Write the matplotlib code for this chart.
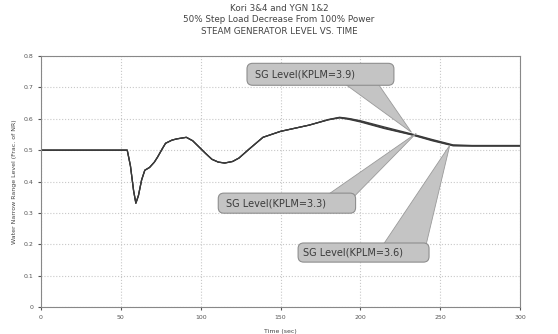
import matplotlib
matplotlib.use("Agg")
import matplotlib.pyplot as plt
from matplotlib.patches import Polygon, FancyBboxPatch

# data
time_s = [0, 54, 56, 58, 59.4, 61, 63, 65, 68, 71, 73, 76, 78, 82, 85, 91, 95, 99,
          103, 107, 111, 115, 120, 124, 130, 139, 150, 168, 180, 187, 193, 200,
          215, 232, 245, 258, 270, 300]
level_39 = [0.5, 0.5, 0.45, 0.37, 0.331, 0.355, 0.405, 0.436, 0.445, 0.462, 0.478,
            0.505, 0.522, 0.532, 0.536, 0.541, 0.53, 0.51, 0.49, 0.471, 0.462,
            0.459, 0.464, 0.475, 0.502, 0.541, 0.56, 0.58, 0.598, 0.605, 0.601,
            0.594, 0.574, 0.552, 0.534, 0.517, 0.515, 0.515]
level_33 = [0.5, 0.5, 0.45, 0.37, 0.331, 0.355, 0.405, 0.436, 0.445, 0.462, 0.478,
            0.505, 0.522, 0.532, 0.536, 0.541, 0.53, 0.51, 0.49, 0.471, 0.462,
            0.459, 0.464, 0.475, 0.502, 0.541, 0.56, 0.58, 0.597, 0.603, 0.598,
            0.590, 0.569, 0.549, 0.530, 0.514, 0.513, 0.513]
level_36 = [0.5, 0.5, 0.45, 0.37, 0.331, 0.355, 0.405, 0.436, 0.445, 0.462, 0.478,
            0.505, 0.522, 0.532, 0.536, 0.541, 0.53, 0.51, 0.49, 0.471, 0.462,
            0.459, 0.464, 0.475, 0.502, 0.541, 0.56, 0.58, 0.597, 0.604, 0.600,
            0.592, 0.571, 0.550, 0.532, 0.515, 0.514, 0.514]
series_names = ["SG Level(KPLM=3.9)", "SG Level(KPLM=3.3)", "SG Level(KPLM=3.6)"]
series_values = [level_39, level_33, level_36]

x_ticks = [0, 50, 100, 150, 200, 250, 300]
y_ticks = [0, 0.1, 0.2, 0.3, 0.4, 0.5, 0.6, 0.7, 0.8]
y_tick_labels = ["0", "0.1", "0.2", "0.3", "0.4", "0.5", "0.6", "0.7", "0.8"]

# callouts in data units: box (t0, t1, v0, v1), text left, wedge base span, tip
callout_box = [(129, 221, 0.707, 0.777), (111, 197, 0.299, 0.363), (161, 243, 0.143, 0.204)]
callout_text_x = [134, 116, 164]
callout_base = [(182, 207), (172, 192), (211, 240)]
callout_tip = [(232, 0.557), (235, 0.554), (256, 0.516)]

fig = plt.figure(figsize=(5.58, 3.34), dpi=100)
ax = fig.add_axes([0.0735, 0.081, 0.8585, 0.751])

for vals in series_values:
    ax.plot(time_s, vals, color="#3a3a3a", lw=0.9)

ax.set_xlim(0, 300)
ax.set_ylim(0, 0.8)
ax.set_xticks(x_ticks)
ax.set_yticks(y_ticks)
ax.set_yticklabels(y_tick_labels)
ax.tick_params(labelsize=4.5, colors="#555555", length=2)
ax.grid(True, linestyle=":", color="#c8c8c8", lw=0.8)
for sp in ax.spines.values():
    sp.set_color("#888888")

ax.set_xlabel("Time (sec)", fontsize=4.5, color="#444444", labelpad=7)
ax.set_ylabel("Water Narrow Range Level (Frac. of NR)", fontsize=4.5, color="#444444", labelpad=5)

fig.text(0.5, 0.976, "Kori 3&4 and YGN 1&2", ha="center", va="center", fontsize=6.3, color="#444444")
fig.text(0.5, 0.943, "50% Step Load Decrease From 100% Power", ha="center", va="center", fontsize=6.3, color="#444444")
fig.text(0.5, 0.907, "STEAM GENERATOR LEVEL VS. TIME", ha="center", va="center", fontsize=6.3, color="#444444")

# aspect so the box corners come out round in pixels
aspect = (0.8 / ax.bbox.height) / (300 / ax.bbox.width)

for name, box, tx, base, tip in zip(series_names, callout_box, callout_text_x,
                                    callout_base, callout_tip):
    vmid = (box[2] + box[3]) / 2
    wedge = Polygon([(base[0], vmid), (base[1], vmid), tip], closed=True,
                    fc="#c4c4c4", ec="#9a9a9a", lw=0.6, zorder=4)
    ax.add_patch(wedge)
    patch = FancyBboxPatch((box[0], box[2]), box[1] - box[0], box[3] - box[2],
                           boxstyle="round,pad=0,rounding_size=3.5",
                           mutation_aspect=aspect,
                           fc="#c4c4c4", ec="#8e8e8e", lw=0.8, zorder=5)
    ax.add_patch(patch)
    ax.text(tx, vmid, name, ha="left", va="center", fontsize=7,
            color="#3a3a3a", zorder=6)

fig.savefig("out.png", dpi=100)
